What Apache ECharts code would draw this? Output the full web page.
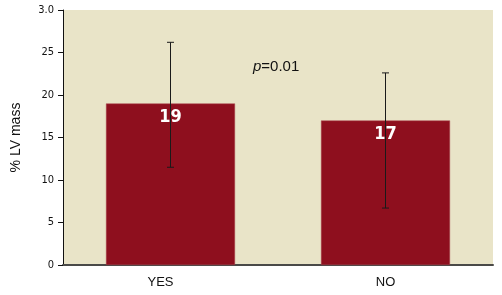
<!DOCTYPE html>
<html><head><meta charset="utf-8">
<script src="https://cdn.jsdelivr.net/npm/echarts@6/dist/echarts.min.js"></script>
<style>html,body{margin:0;padding:0;background:#fff}#c{width:502px;height:295px}</style>
</head><body><div id="c"></div>
<script>
const categories = ['YES', 'NO'];
const values = [19, 17];
const errLow = [11.5, 6.7];
const errHigh = [26.2, 22.6];
const yTicks = [0, 5, 10, 15, 20, 25, 30];
const yTickLabels = ['0', '5', '10', '15', '20', '25', '3.0'];

const chart = echarts.init(document.getElementById('c'));
const narrow = '"DejaVu Sans Condensed", "Liberation Sans Narrow", sans-serif';
const sans = 'Liberation Sans, Arial, sans-serif';
chart.setOption({
  animation: false,
  grid: { left: 63, right: 9, top: 10, bottom: 30, show: true, backgroundColor: '#E9E4C8', borderWidth: 0 },
  xAxis: {
    type: 'category', data: categories,
    axisLine: { lineStyle: { color: '#4a4a48', width: 2 } },
    axisTick: { show: false },
    axisLabel: {
      color: '#111', fontSize: 13, fontFamily: sans, margin: 11,
      formatter: v => v === 'YES' ? '{s|' + v + '}' : v,
      rich: { s: { color: '#111', fontSize: 13, fontFamily: sans, padding: [0, 20, 0, 0] } }
    }
  },
  yAxis: {
    type: 'value', min: 0, max: 30, interval: 5,
    name: '% LV mass', nameLocation: 'middle', nameGap: 40,
    nameTextStyle: { color: '#111', fontSize: 14, fontFamily: sans },
    axisLine: { show: true, lineStyle: { color: '#111', width: 1 } },
    axisTick: { show: true, length: 5, lineStyle: { color: '#111' } },
    splitLine: { show: false },
    axisLabel: {
      color: '#111', fontSize: 11, fontFamily: narrow, margin: 9,
      formatter: v => yTickLabels[yTicks.indexOf(v)]
    }
  },
  series: [
    {
      type: 'bar', data: values, barWidth: '60%',
      itemStyle: { color: '#8E0F1E', borderColor: '#A8454F', borderWidth: 0.5 },
      label: { show: true, position: 'insideTop', distance: 5, color: '#fff', fontSize: 18, fontWeight: 'bold', fontFamily: narrow }
    },
    {
      type: 'custom', z: 5,
      data: categories.map((c, i) => [i, errLow[i], errHigh[i]]),
      renderItem: function (params, api) {
        const lo = api.coord([api.value(0), api.value(1)]);
        const hi = api.coord([api.value(0), api.value(2)]);
        const x = lo[0], w = 3.5;
        const st = { stroke: '#1a1a1a', lineWidth: 1 };
        return { type: 'group', children: [
          { type: 'line', shape: { x1: x, y1: lo[1], x2: x, y2: hi[1] }, style: st },
          { type: 'line', shape: { x1: x - w, y1: lo[1], x2: x + w, y2: lo[1] }, style: st },
          { type: 'line', shape: { x1: x - w, y1: hi[1], x2: x + w, y2: hi[1] }, style: st }
        ]};
      }
    }
  ],
  graphic: [{
    type: 'text', left: 253, top: 59,
    style: {
      text: '{i|p}=0.01',
      rich: { i: { fontStyle: 'italic', fontSize: 15, fill: '#111', fontFamily: sans } },
      fontSize: 15, fill: '#111', fontFamily: sans
    }
  }]
});
</script></body></html>
